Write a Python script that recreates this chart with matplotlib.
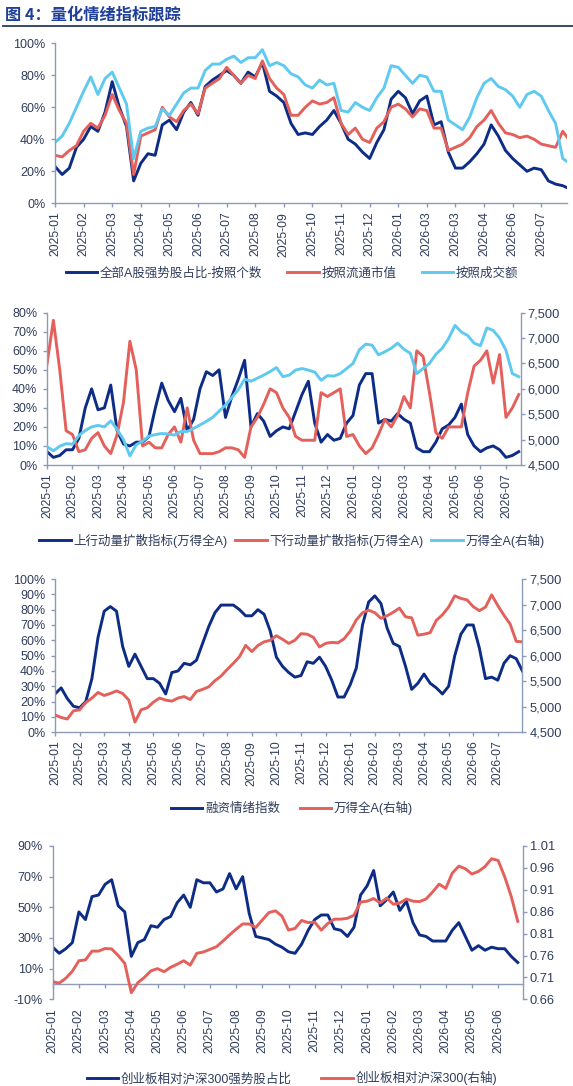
import numpy as np
import matplotlib
matplotlib.use('Agg')
import matplotlib.pyplot as plt
from matplotlib.ticker import FuncFormatter
from matplotlib.lines import Line2D

plt.rcParams['font.family'] = ['Liberation Sans', 'Noto Sans CJK SC']

# ---------------- data (sampled every quarter tick-interval) ----------------
ticks1 = ['2025-01', '2025-02', '2025-03', '2025-04', '2025-05', '2025-06', '2025-07',
          '2025-08', '2025-09', '2025-10', '2025-11', '2025-12', '2026-01', '2026-03',
          '2026-03', '2026-04', '2026-06', '2026-07']
cnt1 = [23, 18, 22, 35, 40, 48, 45, 57, 76, 60, 48, 14, 25, 31, 30, 49, 52, 46, 57, 63, 55,
        73, 77, 80, 83, 80, 75, 82, 79, 88, 70, 67, 63, 50, 43, 44, 43, 48, 52, 58, 50, 40,
        37, 32, 28, 38, 46, 65, 70, 66, 56, 64, 67, 49, 51, 32, 22, 22, 26, 31, 37, 49, 42,
        33, 28, 24, 20, 22, 21, 14, 12, 11, 9]
mv1 = [30, 29, 33, 36, 45, 50, 47, 55, 68, 58, 50, 18, 42, 44, 46, 60, 54, 51, 58, 62, 56,
       72, 75, 78, 85, 80, 75, 80, 78, 89, 78, 72, 68, 55, 55, 60, 64, 62, 63, 66, 50, 43,
       47, 40, 38, 47, 51, 60, 62, 59, 54, 59, 58, 47, 47, 33, 35, 37, 41, 48, 52, 58, 50,
       44, 43, 41, 42, 40, 37, 36, 35, 45, 39]
amt1 = [38, 42, 50, 60, 70, 79, 68, 78, 82, 72, 62, 28, 45, 47, 48, 59, 55, 62, 69, 72, 72,
        83, 87, 87, 90, 92, 88, 91, 91, 96, 86, 88, 86, 81, 79, 74, 72, 77, 74, 75, 58, 57,
        63, 60, 58, 66, 72, 86, 85, 80, 75, 80, 79, 70, 70, 52, 49, 46, 54, 66, 75, 78, 73,
        71, 67, 60, 68, 70, 67, 58, 50, 28, 25]

ticks2 = ['2025-01', '2025-02', '2025-03', '2025-04', '2025-05', '2025-06', '2025-07',
          '2025-08', '2025-09', '2025-10', '2025-11', '2025-12', '2026-01', '2026-02',
          '2026-03', '2026-04', '2026-05', '2026-06', '2026-07']
up2 = [7, 4, 5, 8, 8, 14, 30, 40, 29, 30, 42, 18, 11, 10, 12, 12, 15, 30, 43, 34, 28, 35,
       18, 24, 40, 49, 47, 50, 25, 36, 45, 55, 20, 27, 23, 15, 18, 20, 19, 28, 37, 44, 22,
       12, 16, 13, 14, 22, 26, 42, 48, 48, 22, 24, 23, 27, 24, 22, 9, 7, 7, 12, 19, 21, 25,
       32, 16, 10, 7, 9, 10, 8, 4, 5, 7]
down2 = [53, 76, 50, 18, 16, 7, 8, 14, 17, 10, 6, 16, 33, 65, 50, 10, 12, 9, 9, 16, 20, 12,
         30, 13, 6, 6, 6, 7, 9, 9, 8, 4, 20, 25, 32, 40, 38, 30, 25, 15, 13, 13, 13, 38, 36,
         38, 40, 15, 16, 10, 6, 9, 16, 24, 20, 26, 36, 30, 60, 57, 38, 17, 14, 20, 20, 20,
         38, 52, 55, 60, 43, 58, 25, 30, 37]
wind2 = [4860, 4780, 4870, 4920, 4910, 5080, 5180, 5250, 5280, 5250, 5370, 5200, 5000, 4680,
         4900, 4970, 5070, 5100, 5120, 5110, 5090, 5160, 5160, 5220, 5290, 5360, 5440, 5560,
         5680, 5830, 5980, 6190, 6150, 6210, 6270, 6340, 6420, 6240, 6270, 6370, 6400, 6370,
         6330, 6170, 6260, 6250, 6300, 6400, 6500, 6770, 6880, 6860, 6670, 6730, 6800, 6900,
         6780, 6700, 6300, 6400, 6500, 6680, 6800, 6990, 7250, 7120, 7050, 6900, 6850, 7200,
         7150, 7000, 6760, 6300, 6240]

ticks3 = list(ticks2)
margin3 = [25, 29, 22, 17, 16, 20, 35, 62, 79, 82, 79, 56, 43, 51, 43, 35, 35, 32, 25, 39,
           40, 45, 44, 47, 58, 69, 78, 83, 83, 83, 80, 76, 76, 80, 77, 66, 49, 43, 39, 36,
           37, 46, 45, 49, 43, 34, 23, 23, 31, 42, 70, 85, 89, 84, 68, 58, 56, 43, 28, 32,
           38, 32, 29, 25, 30, 50, 64, 70, 70, 55, 35, 36, 34, 45, 50, 48, 40]
wind3 = [4840, 4790, 4760, 4920, 4940, 5080, 5170, 5280, 5220, 5260, 5310, 5260, 5130, 4700,
         4940, 4980, 5090, 5170, 5130, 5110, 5170, 5200, 5140, 5300, 5340, 5390, 5510, 5600,
         5730, 5850, 5980, 6200, 6080, 6200, 6270, 6300, 6390, 6320, 6240, 6300, 6430, 6420,
         6360, 6170, 6240, 6260, 6250, 6330, 6480, 6700, 6840, 6890, 6840, 6730, 6780, 6850,
         6930, 6760, 6740, 6400, 6420, 6450, 6690, 6800, 6950, 7170, 7120, 7090, 6960, 6880,
         6950, 7190, 6980, 6790, 6620, 6280, 6270]

ticks4 = ticks2[:-1]
gem_strong4 = [24, 20, 23, 27, 47, 42, 57, 58, 65, 68, 51, 47, 18, 27, 29, 38, 37, 42, 44,
               53, 58, 50, 68, 66, 66, 60, 62, 72, 62, 70, 46, 31, 30, 29, 26, 24, 21, 20,
               26, 35, 42, 45, 45, 36, 35, 31, 37, 58, 64, 74, 51, 55, 60, 48, 54, 40, 32,
               31, 28, 28, 28, 35, 40, 31, 22, 25, 22, 24, 23, 23, 18, 14]
gem_rel4 = [0.700, 0.697, 0.708, 0.724, 0.748, 0.750, 0.770, 0.770, 0.776, 0.775, 0.760,
            0.742, 0.675, 0.698, 0.710, 0.725, 0.730, 0.723, 0.733, 0.740, 0.748, 0.738,
            0.765, 0.768, 0.774, 0.780, 0.793, 0.807, 0.820, 0.832, 0.832, 0.824, 0.841,
            0.858, 0.862, 0.850, 0.818, 0.822, 0.840, 0.835, 0.836, 0.818, 0.833, 0.843,
            0.843, 0.845, 0.852, 0.882, 0.884, 0.890, 0.880, 0.891, 0.877, 0.880, 0.889,
            0.884, 0.883, 0.889, 0.905, 0.923, 0.913, 0.948, 0.964, 0.958, 0.946, 0.952,
            0.963, 0.981, 0.977, 0.940, 0.895, 0.838]

STEP = 0.25  # samples per tick interval

# ---------------- style ----------------
W, H, DPI = 573, 1086, 100
NAVY = '#0d2c86'
RED = '#e4605b'
CYAN = '#5fc9ef'
SPINE = '#8c9cb6'
TXT = '#2f3d5c'
TITLE = '#1f3f98'
LW = 2.1

fig = plt.figure(figsize=(W / DPI, H / DPI), dpi=DPI)


def px_axes(left, right, top, bottom):
    return fig.add_axes([left / W, 1 - bottom / H, (right - left) / W, (bottom - top) / H])


pct = FuncFormatter(lambda v, _: f'{v:.0f}%')
thou = FuncFormatter(lambda v, _: f'{v:,.0f}')


def style(ax, ticks, xmax, ylim, yticks, xpad=3, zero_axis=False):
    for s in ('top', 'right'):
        ax.spines[s].set_visible(False)
    if zero_axis:
        ax.spines['bottom'].set_position(('data', 0))
    for s in ('left', 'bottom'):
        ax.spines[s].set_color(SPINE)
        ax.spines[s].set_linewidth(1.0)
    ax.set_xlim(0, xmax)
    ax.set_ylim(*ylim)
    ax.set_yticks(yticks)
    ax.yaxis.set_major_formatter(pct)
    ax.set_xticks(np.arange(len(ticks)))
    ax.set_xticklabels(ticks)
    ax.tick_params(axis='both', colors=SPINE, labelcolor=TXT, length=3, width=1,
                   direction='out')
    ax.tick_params(axis='y', labelsize=9, pad=4)
    ax.tick_params(axis='x', labelsize=8.8, pad=xpad, labelrotation=90)
    ax.patch.set_alpha(0)


def style_right(ax2, ylim, yticks, fmt):
    for s in ('top', 'left', 'bottom'):
        ax2.spines[s].set_visible(False)
    ax2.spines['right'].set_color(SPINE)
    ax2.spines['right'].set_linewidth(1.0)
    ax2.set_ylim(*ylim)
    ax2.set_yticks(yticks)
    ax2.yaxis.set_major_formatter(fmt)
    ax2.tick_params(axis='y', colors=SPINE, labelcolor=TXT, length=3, width=1,
                    direction='out', labelsize=9.3, pad=2)


def legend(ax, handles, labels, cy, colsp):
    ax.legend(handles, labels, loc='center', bbox_to_anchor=(292 / W, 1 - cy / H),
              bbox_transform=fig.transFigure, ncol=len(handles), frameon=False,
              fontsize=9, handlelength=2.5, handletextpad=0.25, columnspacing=colsp,
              labelcolor=TXT)


def xs(vals):
    return np.arange(len(vals)) * STEP


# ---------------- title ----------------
fig.text(5 / W, 1 - 15 / H, '图 4：量化情绪指标跟踪', fontsize=11.7, fontweight='bold',
         color=TITLE, va='center', ha='left', family=['Noto Sans CJK SC', 'Liberation Sans'])
fig.add_artist(Line2D([3 / W, 1], [1 - 25.7 / H, 1 - 25.7 / H], transform=fig.transFigure,
                      color='#2a3a60', lw=1.3))

# ---------------- panel 1 ----------------
ax1 = px_axes(55, 567, 43.3, 203.3)
l1, = ax1.plot(xs(cnt1), cnt1, color=NAVY, lw=LW)
l2, = ax1.plot(xs(mv1), mv1, color=RED, lw=LW)
l3, = ax1.plot(xs(amt1), amt1, color=CYAN, lw=LW)
style(ax1, ticks1, 17.9, (0, 100), np.arange(0, 101, 20))
legend(ax1, [l1, l2, l3], ['全部A股强势股占比-按照个数', '按照流通市值', '按照成交额'], 273.3, 2.0)

# ---------------- panel 2 ----------------
ax2 = px_axes(47, 520.5, 312.7, 465)
m1, = ax2.plot(xs(up2), up2, color=NAVY, lw=LW)
m2, = ax2.plot(xs(down2), down2, color=RED, lw=LW)
style(ax2, ticks2, 18.57, (0, 80), np.arange(0, 81, 10))
ax2r = ax2.twinx()
m3, = ax2r.plot(xs(wind2), wind2, color=CYAN, lw=LW)
style_right(ax2r, (4500, 7500), np.arange(4500, 7501, 500), thou)
legend(ax2r, [m1, m2, m3], ['上行动量扩散指标(万得全A)', '下行动量扩散指标(万得全A)', '万得全A(右轴)'],
       540.7, 0.6)

# ---------------- panel 3 ----------------
ax3 = px_axes(55, 522.4, 579, 732.3)
n1, = ax3.plot(xs(margin3), margin3, color=NAVY, lw=LW)
style(ax3, ticks3, 19.0, (0, 100), np.arange(0, 101, 10))
ax3r = ax3.twinx()
n2, = ax3r.plot(xs(wind3), wind3, color=RED, lw=LW)
style_right(ax3r, (4500, 7500), np.arange(4500, 7501, 500), thou)
legend(ax3r, [n1, n2], ['融资情绪指数', '万得全A(右轴)'], 808.3, 1.55)

# ---------------- panel 4 ----------------
ax4 = px_axes(52.7, 523, 846, 999.3)
p1, = ax4.plot(xs(gem_strong4), gem_strong4, color=NAVY, lw=LW)
style(ax4, ticks4, 17.95, (-10, 90), np.arange(-10, 91, 20), xpad=14.5, zero_axis=True)
ax4r = ax4.twinx()
p2, = ax4r.plot(xs(gem_rel4), gem_rel4, color=RED, lw=LW)
style_right(ax4r, (0.66, 1.01), np.round(np.arange(0.66, 1.0101, 0.05), 2),
            FuncFormatter(lambda v, _: f'{v:.2f}'))
legend(ax4r, [p1, p2], ['创业板相对沪深300强势股占比', '创业板相对沪深300(右轴)'], 1078.3, 2.35)

fig.savefig('out.png', dpi=DPI)
